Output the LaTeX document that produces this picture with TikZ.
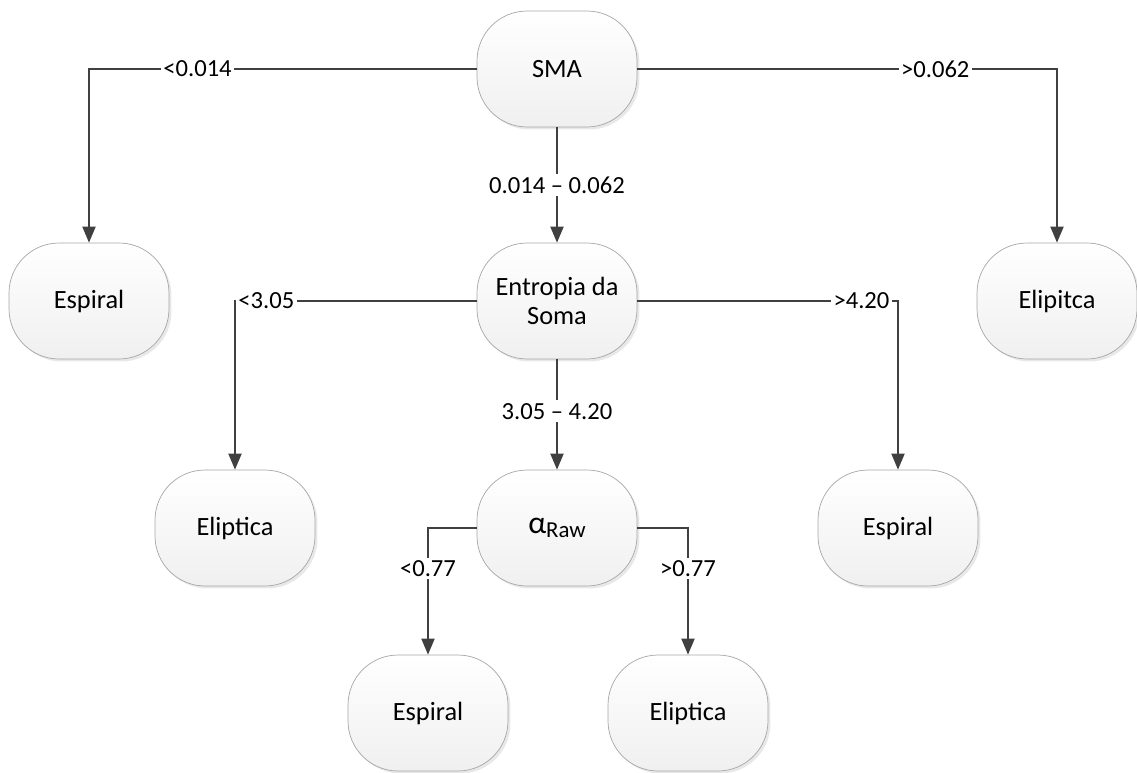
\documentclass[tikz,border=0pt]{standalone}
\usepackage{fontspec}
\setmainfont{Carlito}
\usetikzlibrary{positioning, arrows.meta, shadows}

\begin{document}
\begin{tikzpicture}[
  x=0.02cm, y=-0.02cm,
  leaf/.style={draw=gray!70, rounded corners=1.0cm, minimum width=3.2cm, minimum height=2.32cm,
    top color=white, bottom color=gray!12, align=center, font=\fontsize{15}{17}\selectfont,
    drop shadow={shadow xshift=0.05cm, shadow yshift=-0.05cm, fill=gray!35, opacity=0.5}},
  split/.style={-{Triangle[length=0.32cm, width=0.26cm]}, line width=1.1pt, draw=black!75},
  cond/.style={fill=white, inner sep=1.5pt, font=\fontsize{14}{16}\selectfont}
]
\useasboundingbox (0,0) rectangle (1137,772);

% --- root and first split ---
\node[leaf] (sma) at (557,69) {SMA};
\node[leaf] (espA) at (89,301) {Espiral};
\node[leaf] (ent) at (557,301) {Entropia da\\Soma};
\node[leaf] (eliA) at (1057,301) {Elipitca};

% --- second level ---
\node[leaf] (eliB) at (235,528) {Eliptica};
\node[leaf] (alpha) at (557,528) {{\fontsize{18}{20}\selectfont α}{\fontsize{13}{15}\selectfont\raisebox{-0.3ex}{Raw}}};
\node[leaf] (espB) at (898,528) {Espiral};

% --- third level ---
\node[leaf] (espC) at (428,713) {Espiral};
\node[leaf] (eliC) at (688,713) {Eliptica};

% SMA thresholds
\draw[split] (sma.west) -| node[cond, pos=0.36] {<0.014} (espA.north);
\draw[split] (sma.east) -| node[cond, pos=0.355] {>0.062} (eliA.north);
\draw[split] (sma.south) -- node[cond, pos=0.5] {0.014 -- 0.062} (ent.north);

% entropy thresholds
\draw[split] (ent.west) -| node[cond, pos=0.435] {<3.05} (eliB.north);
\draw[split] (ent.east) -| node[cond, pos=0.43] {>4.20} (espB.north);
\draw[split] (ent.south) -- node[cond, pos=0.47] {3.05 -- 4.20} (alpha.north);

% alpha thresholds
\draw[split] (alpha.west) -| node[cond, pos=0.66] {<0.77} (espC.north);
\draw[split] (alpha.east) -| node[cond, pos=0.66] {>0.77} (eliC.north);

\end{tikzpicture}
\end{document}
